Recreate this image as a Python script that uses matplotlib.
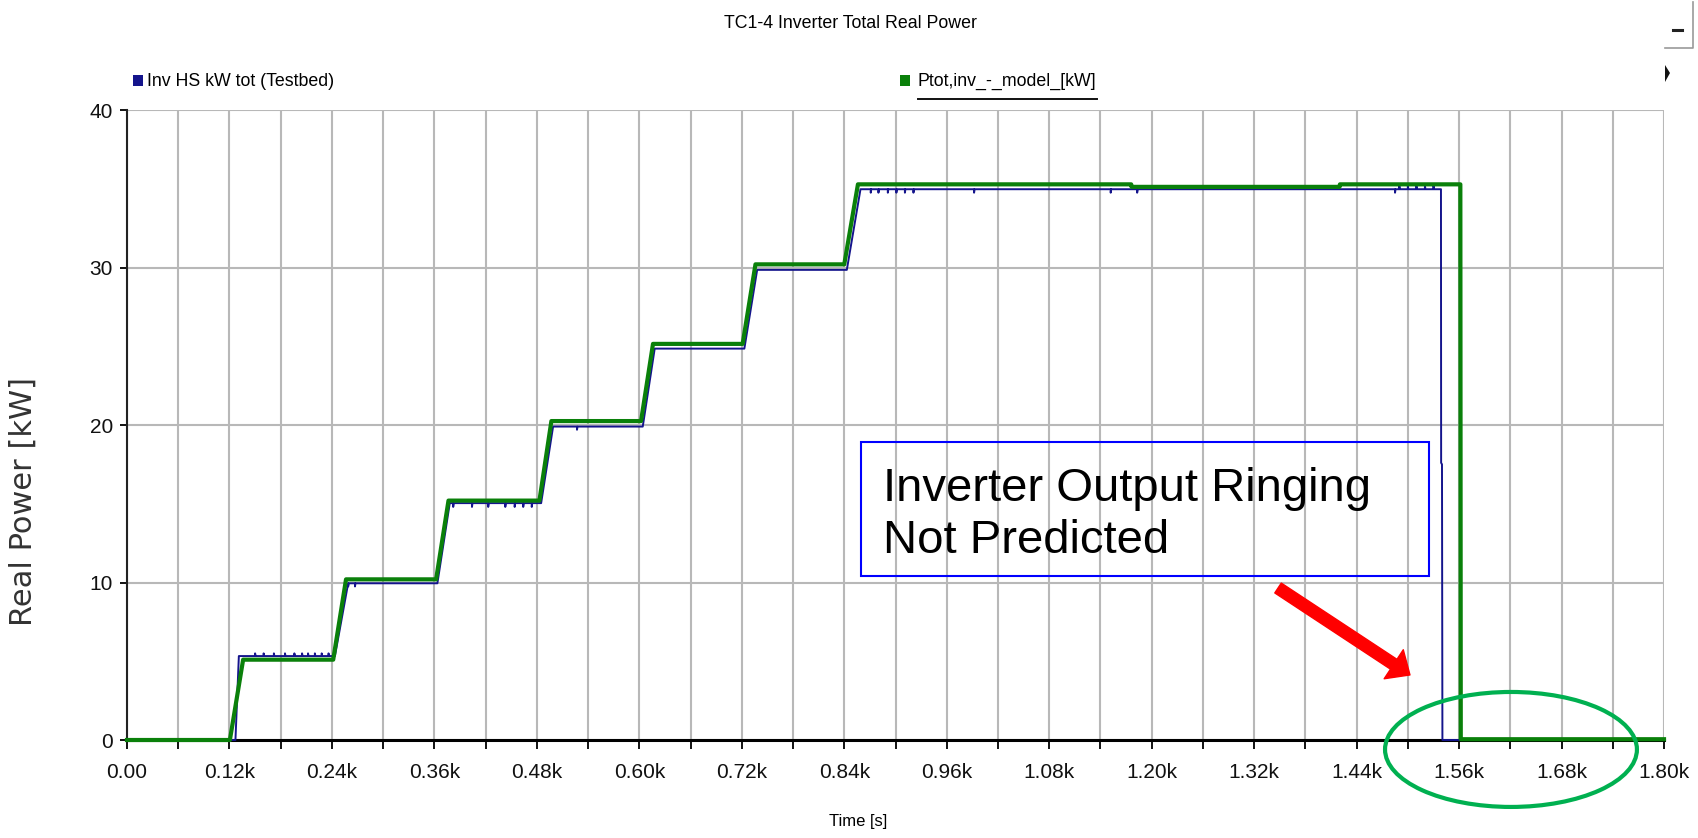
import numpy as np
import matplotlib
matplotlib.use("Agg")
import matplotlib.pyplot as plt
from matplotlib.patches import Rectangle, Ellipse, Polygon
from matplotlib.lines import Line2D

# =====================================================
# DATA
# =====================================================

# model (green): step profile, time [s] / power [kW]
model_t = [0, 120.5, 136, 241.5, 256.5, 362, 376.5, 483, 497, 602, 616,
           721, 736, 840, 856, 1176, 1176.5, 1420, 1420.5, 1561.5, 1562, 1800]
model_p = [0, 0, 5.1, 5.1, 10.2, 10.2, 15.2, 15.2, 20.25, 20.25, 25.15,
           25.15, 30.2, 30.2, 35.28, 35.28, 35.12, 35.12, 35.28, 35.28, 0.05, 0.05]

# testbed (blue): step profile
bed_t = [0, 127, 131, 243.5, 259, 363.5, 378, 485, 499, 604, 618,
         723, 738, 843, 859, 1538.8, 1539, 1540, 1540.5, 1800]
bed_p = [0, 0, 5.33, 5.33, 9.95, 9.95, 15.04, 15.04, 19.9, 19.9, 24.85,
         24.85, 29.85, 29.85, 34.97, 34.97, 17.6, 17.5, 0, 0]

# small spikes on the testbed trace (time, peak value)
spike_t = [150, 160, 172, 185, 196, 205, 212, 220, 228, 236,
           259, 267,
           382, 404, 423, 443, 454, 464, 474,
           527,
           871, 880, 891, 901, 911, 921, 992, 1152, 1183, 1485,
           1490, 1500, 1510, 1520, 1530]
spike_p = [5.5, 5.5, 5.5, 5.5, 5.5, 5.5, 5.5, 5.5, 5.5, 5.5,
           9.75, 9.75,
           14.8, 14.8, 14.8, 14.8, 14.8, 14.8, 14.8,
           19.7,
           34.75, 34.75, 34.75, 34.75, 34.75, 34.75, 34.75, 34.75, 34.75, 34.75,
           35.2, 35.2, 35.2, 35.2, 35.2]

xtick_vals = list(range(0, 1801, 60))
xtick_text = ["0.00", "0.12k", "0.24k", "0.36k", "0.48k", "0.60k", "0.72k", "0.84k",
              "0.96k", "1.08k", "1.20k", "1.32k", "1.44k", "1.56k", "1.68k", "1.80k"]
ytick_vals = [0, 10, 20, 30, 40]

# =====================================================
# BUILD TESTBED TRACE WITH SPIKES
# =====================================================

bt = list(bed_t)
bp = list(bed_p)
for t, p in zip(spike_t, spike_p):
    base = np.interp(t, bed_t, bed_p)
    bt += [t, t + 0.01, t + 0.6]
    bp += [base, p, base]
order = np.argsort(bt, kind="stable")
bt = np.array(bt)[order]
bp = np.array(bp)[order]

# =====================================================
# FIGURE
# =====================================================

sans = ["Liberation Sans", "DejaVu Sans"]
W, H = 1698, 838
fig = plt.figure(figsize=(W / 100, H / 100), dpi=100)
ax = fig.add_axes([127 / W, 1 - 740 / H, 1537 / W, 630 / H])

ax.plot(bt, bp, color="#14148c", lw=1.4, clip_on=False, zorder=3)
ax.plot(model_t, model_p, color="#0a800a", lw=3.0, clip_on=False, zorder=4)

ax.set_xlim(0, 1800)
ax.set_ylim(0, 40)

ax.set_xticks(xtick_vals)
labels = []
for i, v in enumerate(xtick_vals):
    labels.append(xtick_text[i // 2] if i % 2 == 0 else "")
ax.set_xticklabels(labels, fontfamily=sans, fontsize=15)
ax.set_yticks(ytick_vals)
ax.set_yticklabels([str(v) for v in ytick_vals], fontfamily=sans, fontsize=15)

ax.tick_params(axis="x", direction="out", length=6.5, width=1.4, pad=10, colors="#111111")
ax.tick_params(axis="y", direction="out", length=5, width=1.4, pad=5, colors="#111111")

ax.grid(True, color="#b8b8b8", lw=1.5)
ax.set_axisbelow(True)
for s in ["top", "right"]:
    ax.spines[s].set_visible(False)
ax.spines["left"].set_linewidth(1.5)
ax.spines["left"].set_color("#222222")
ax.spines["bottom"].set_linewidth(2.2)
ax.spines["bottom"].set_color("#000000")
ax.spines["bottom"].set_zorder(2)

# annotation box + text
ax.add_patch(Rectangle((859.6, 10.41), 1524.8 - 859.6, 18.95 - 10.41,
                       fill=False, edgecolor="#0000ff", lw=1.5, zorder=5))
ax.text(884.9, 11.85, "Inverter Output Ringing\nNot Predicted",
        fontfamily=sans, fontsize=34,
        va="baseline", ha="left", linespacing=1.25, zorder=6)

# red arrow
ax.annotate("", xy=(1502.5, 4.13), xytext=(1348, 9.65),
            arrowprops=dict(facecolor="#ff0000", edgecolor="#ff0000",
                            width=8.5, headwidth=25, headlength=14, shrink=0),
            annotation_clip=False, zorder=7)

# green ellipse
ax.add_patch(Ellipse((1620.8, -0.6), 295, 7.3, fill=False,
                     edgecolor="#00b050", lw=3.0, clip_on=False, zorder=7))

# =====================================================
# TITLE, LABELS, LEGEND
# =====================================================

fig.text(850 / W, 1 - 24 / H, "TC1-4 Inverter Total Real Power",
         fontfamily=sans, fontsize=12.8, ha="center", va="center")
fig.text(858 / W, 1 - 821 / H, "Time [s]",
         fontfamily=sans, fontsize=12, ha="center", va="center")
fig.text(23 / W, 1 - 501 / H, "Real Power [kW]",
         fontfamily=["DejaVu Sans"], fontsize=22, rotation=90,
         ha="center", va="center", color="#333333")

# legend entries
fig.patches.append(Rectangle((133 / W, 1 - 86 / H), 10 / W, 11 / H,
                             transform=fig.transFigure, facecolor="#14148c",
                             edgecolor="none"))
fig.text(147 / W, 1 - 81 / H, "Inv HS kW tot (Testbed)",
         fontfamily=sans, fontsize=12.8, ha="left", va="center")
fig.patches.append(Rectangle((900 / W, 1 - 86 / H), 10 / W, 11 / H,
                             transform=fig.transFigure, facecolor="#0a800a",
                             edgecolor="none"))
leg2 = fig.text(918 / W, 1 - 81 / H, "Ptot,inv_-_model_[kW]",
                fontfamily=sans, fontsize=12.8, ha="left", va="center")

# underline under the second legend entry, as wide as its text
fig.canvas.draw()
bb = leg2.get_window_extent()
fig.lines.append(Line2D([bb.x0 / W, bb.x1 / W], [1 - 99 / H, 1 - 99 / H],
                        transform=fig.transFigure, color="#111111", lw=1.4))

# window widgets in the top right corner
fig.lines.append(Line2D([1673 / W, 1682 / W], [1 - 30 / H, 1 - 30 / H],
                        transform=fig.transFigure, color="#222222", lw=2.2))
fig.lines.append(Line2D([1665 / W, 1693 / W, 1693 / W],
                        [1 - 48 / H, 1 - 48 / H, 1 - 2 / H],
                        transform=fig.transFigure, color="#999999", lw=1.2))
fig.patches.append(Polygon([(1665 / W, 1 - 65 / H), (1670 / W, 1 - 73 / H),
                            (1665 / W, 1 - 82 / H)], closed=True,
                           transform=fig.transFigure, facecolor="#111111",
                           edgecolor="none"))

fig.savefig("out.png", dpi=100)
